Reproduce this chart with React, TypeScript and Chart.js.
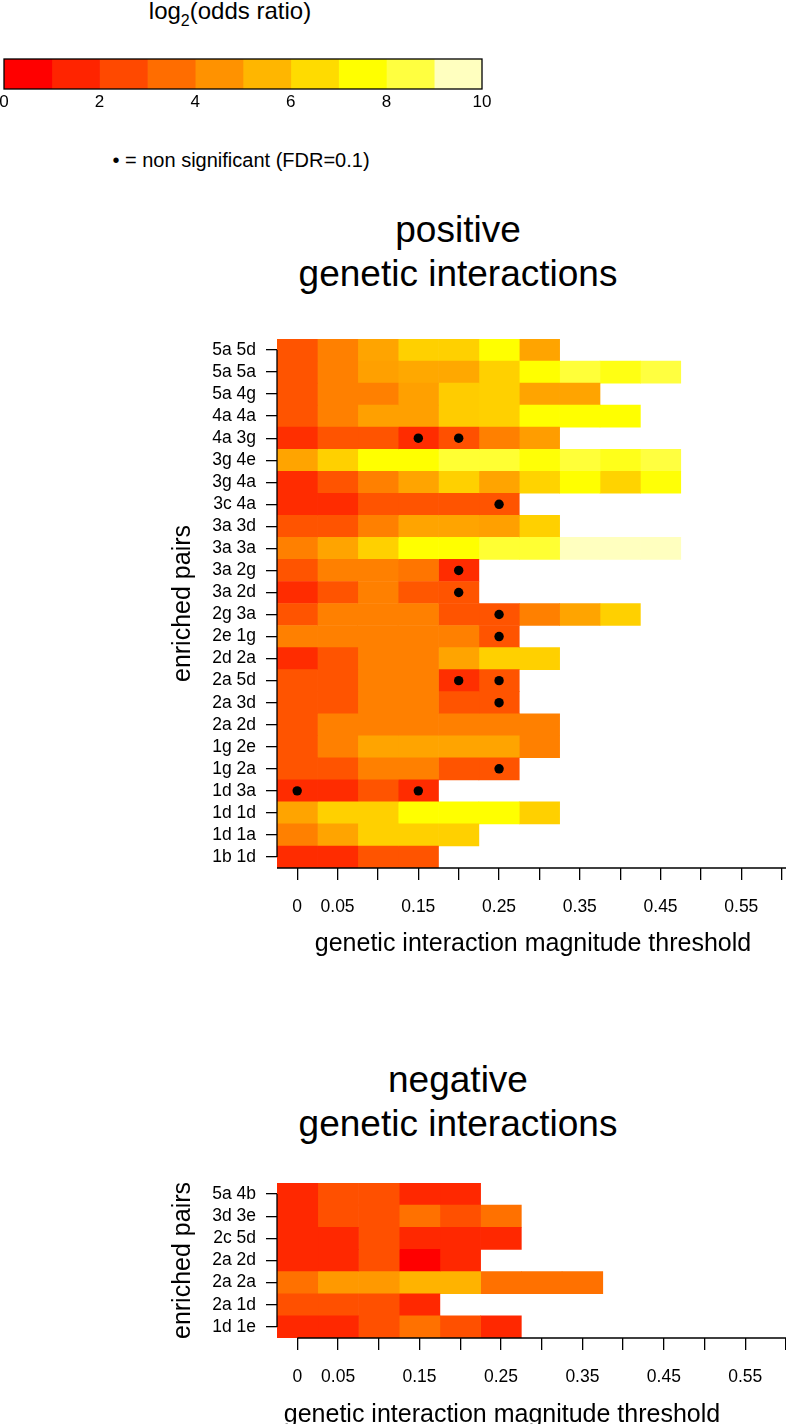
import React, { useEffect, useRef } from 'react';
import { Chart, registerables } from 'chart.js';

Chart.register(...registerables);

const FONT = "'Liberation Sans', Arial, Helvetica, sans-serif";
Chart.defaults.font.family = FONT;
Chart.defaults.color = '#000';

// ---------- data ----------
const thresholds = [0, 0.05, 0.1, 0.15, 0.2, 0.25, 0.3, 0.35, 0.4, 0.45];
const xTickValues = [0, 0.05, 0.1, 0.15, 0.2, 0.25, 0.3, 0.35, 0.4, 0.45, 0.5, 0.55, 0.6];
const xTickLabels = ['0', '0.05', '', '0.15', '', '0.25', '', '0.35', '', '0.45', '', '0.55', ''];

const colorbarBreaks = [0, 1, 2, 3, 4, 5, 6, 7, 8, 9, 10];
const colorbarTicks = [0, 2, 4, 6, 8, 10];

const posRows = [
  '5a 5d', '5a 5a', '5a 4g', '4a 4a', '4a 3g', '3g 4e', '3g 4a', '3c 4a',
  '3a 3d', '3a 3a', '3a 2g', '3a 2d', '2g 3a', '2e 1g', '2d 2a', '2a 5d',
  '2a 3d', '2a 2d', '1g 2e', '1g 2a', '1d 3a', '1d 1d', '1d 1a', '1b 1d',
];
// log2(odds ratio) per row, one value per threshold column (0, 0.05, ...)
const posValues: number[][] = [
  [2.8, 4.0, 5.0, 6.2, 6.2, 7.5, 5.0],
  [2.8, 4.0, 4.9, 5.1, 5.1, 6.2, 7.5, 8.4, 7.8, 8.5],
  [2.8, 4.0, 4.0, 4.9, 6.1, 6.2, 5.0, 5.0],
  [2.8, 4.0, 4.9, 4.9, 6.1, 6.2, 7.5, 7.5, 7.5],
  [1.8, 2.8, 2.8, 1.7, 2.7, 4.0, 4.8],
  [5.0, 6.2, 7.5, 7.5, 8.3, 8.3, 7.6, 8.4, 7.9, 8.5],
  [1.7, 2.8, 4.0, 5.0, 6.2, 5.0, 6.3, 7.5, 6.3, 7.6],
  [1.7, 1.7, 2.8, 2.8, 2.8, 2.8],
  [2.8, 2.8, 4.0, 5.0, 5.0, 4.9, 6.2],
  [4.0, 5.0, 6.2, 7.5, 7.5, 8.3, 8.3, 9.5, 9.5, 9.5],
  [2.8, 4.0, 4.0, 3.7, 1.7],
  [1.7, 2.8, 4.0, 2.9, 2.8],
  [2.8, 4.0, 4.0, 4.0, 2.8, 2.8, 4.0, 5.0, 6.2],
  [4.0, 4.0, 4.0, 4.0, 4.0, 2.8],
  [1.7, 2.8, 4.0, 4.0, 5.0, 6.2, 6.2],
  [2.8, 2.8, 4.0, 4.0, 1.8, 2.8],
  [2.8, 2.8, 4.0, 4.0, 2.8, 2.8],
  [2.8, 4.0, 4.0, 4.0, 4.0, 4.0, 4.0],
  [2.8, 4.0, 5.0, 5.0, 5.0, 5.0, 4.0],
  [2.8, 2.8, 4.0, 4.0, 2.8, 2.8],
  [1.7, 1.7, 2.8, 1.7],
  [5.0, 6.2, 6.2, 7.5, 7.5, 7.5, 6.2],
  [4.0, 5.0, 6.2, 6.2, 6.2],
  [1.7, 1.7, 2.8, 2.8],
];
// non significant cells: [row, threshold]
const posNonSig: [string, number][] = [
  ['4a 3g', 0.15], ['4a 3g', 0.2], ['3c 4a', 0.25], ['3a 2g', 0.2], ['3a 2d', 0.2],
  ['2g 3a', 0.25], ['2e 1g', 0.25], ['2a 5d', 0.2], ['2a 5d', 0.25], ['2a 3d', 0.25],
  ['1g 2a', 0.25], ['1d 3a', 0], ['1d 3a', 0.15],
];

const negRows = ['5a 4b', '3d 3e', '2c 5d', '2a 2d', '2a 2a', '2a 1d', '1d 1e'];
const negValues: number[][] = [
  [1.6, 2.7, 2.7, 1.6, 1.6],
  [1.6, 2.7, 2.7, 3.6, 2.7, 3.6],
  [1.6, 1.6, 2.7, 1.6, 1.6, 1.6],
  [1.6, 1.6, 2.7, 0.4, 1.6],
  [3.6, 4.7, 4.7, 5.4, 5.4, 3.6, 3.6, 3.6],
  [2.7, 2.7, 2.7, 1.6],
  [1.6, 1.6, 2.7, 3.6, 2.7, 1.6],
];
const negNonSig: [string, number][] = [];

// ---------- helpers ----------
function heatColor(v: number): string {
  if (v <= 7.5) {
    const g = Math.round(255 * Math.min(Math.max((v - 0.5) / 7, 0), 1));
    return `rgb(255,${g},0)`;
  }
  const s = v <= 8.5 ? 1 - 0.25 * (v - 7.5) : Math.max(0.25, 0.75 - 0.5 * (v - 8.5));
  return `rgb(255,255,${Math.round(255 * (1 - s))})`;
}

const HALF = (thresholds[1] - thresholds[0]) / 2;

const axisLinesPlugin = {
  id: 'axisLines',
  afterDatasetsDraw(chart: any, _args: any, opts: any) {
    const { ctx, chartArea } = chart;
    ctx.save();
    ctx.strokeStyle = '#000';
    ctx.lineWidth = 1.3;
    if (opts.frame) {
      ctx.strokeRect(chartArea.left, chartArea.top, chartArea.right - chartArea.left, chartArea.bottom - chartArea.top);
    } else {
      const x = chart.scales.x;
      const y = chart.scales.y;
      const n = y.getLabels().length;
      ctx.beginPath();
      ctx.moveTo(chartArea.left, y.getPixelForValue(0));
      ctx.lineTo(chartArea.left, y.getPixelForValue(n - 1));
      const xs = opts.xStart === null || opts.xStart === undefined ? chartArea.left : x.getPixelForValue(opts.xStart);
      ctx.moveTo(xs, chartArea.bottom);
      ctx.lineTo(chartArea.right, chartArea.bottom);
      ctx.stroke();
    }
    ctx.restore();
  },
};

function heatmapConfig(rows: string[], values: number[][], nonSig: [string, number][], xStart: number | null): any {
  const datasets: any[] = [
    {
      type: 'scatter',
      data: nonSig.map(([r, t]) => ({ x: t, y: r })),
      backgroundColor: '#000',
      borderWidth: 0,
      pointRadius: 4.7,
      order: -1,
    },
  ];
  thresholds.forEach((t, k) => {
    datasets.push({
      type: 'bar',
      data: values.map((row) => (row[k] === undefined ? null : [t - HALF, t + HALF])),
      backgroundColor: values.map((row) => (row[k] === undefined ? 'rgba(0,0,0,0)' : heatColor(row[k]))),
      borderWidth: 0,
      grouped: false,
      barPercentage: 1,
      categoryPercentage: 1,
    });
  });
  return {
    type: 'bar',
    data: { labels: rows, datasets },
    options: {
      responsive: false,
      animation: false,
      events: [],
      indexAxis: 'y',
      layout: { padding: { top: 21, left: 0, right: 0, bottom: 0 } },
      plugins: {
        legend: { display: false },
        tooltip: { enabled: false },
        axisLines: { xStart },
      },
      scales: {
        y: {
          type: 'category',
          offset: true,
          grid: { offset: false, drawOnChartArea: false, drawTicks: true, tickLength: 11, color: '#000', lineWidth: 1.3 },
          border: { display: false },
          ticks: { color: '#000', font: { size: 17.5 }, padding: 10, autoSkip: false },
          title: { display: true, text: 'enriched pairs', color: '#000', font: { size: 25 }, padding: { top: 168, bottom: 0 } },
          afterFit: (s: any) => { s.width = 277; },
        },
        x: {
          type: 'linear',
          min: thresholds[0] - HALF,
          max: 0.654,
          afterBuildTicks: (s: any) => { s.ticks = xTickValues.map((v) => ({ value: v })); },
          grid: { drawOnChartArea: false, drawTicks: true, tickLength: 12, color: '#000', lineWidth: 1.3 },
          border: { display: false },
          ticks: {
            color: '#000', font: { size: 17.5 }, padding: 17, autoSkip: false, maxRotation: 0,
            callback: (_v: any, i: number) => xTickLabels[i],
          },
          afterFit: (s: any) => { s.height = 89; },
        },
      },
    },
    plugins: [axisLinesPlugin],
  };
}

function colorbarConfig(): any {
  const datasets = colorbarBreaks.slice(0, -1).map((b, i) => ({
    data: [[b, colorbarBreaks[i + 1]]],
    backgroundColor: heatColor(b + 0.5),
    borderWidth: 0,
    grouped: false,
    barPercentage: 1,
    categoryPercentage: 1,
  }));
  return {
    type: 'bar',
    data: { labels: [''], datasets },
    options: {
      responsive: false,
      animation: false,
      events: [],
      indexAxis: 'y',
      layout: { padding: { left: 8, right: 18, top: 19, bottom: 10 } },
      plugins: { legend: { display: false }, tooltip: { enabled: false }, axisLines: { frame: true } },
      scales: {
        y: { type: 'category', display: false, offset: true },
        x: {
          type: 'linear',
          min: colorbarBreaks[0],
          max: colorbarBreaks[colorbarBreaks.length - 1],
          afterBuildTicks: (s: any) => { s.ticks = colorbarTicks.map((v) => ({ value: v })); },
          grid: { display: false, drawTicks: false },
          border: { display: false },
          ticks: { color: '#000', font: { size: 17 }, padding: 3, autoSkip: false, maxRotation: 0 },
          afterFit: (s: any) => { s.height = 21; },
        },
      },
    },
    plugins: [axisLinesPlugin],
  };
}

function ChartCanvas(props: { make: () => any; left: number; top: number; width: number; height: number }) {
  const ref = useRef<HTMLCanvasElement>(null);
  useEffect(() => {
    const chart = new Chart(ref.current as HTMLCanvasElement, props.make());
    return () => chart.destroy();
  }, []);
  return (
    <canvas
      ref={ref}
      width={props.width}
      height={props.height}
      style={{ position: 'absolute', left: props.left, top: props.top, width: props.width, height: props.height }}
    />
  );
}

export default function App() {
  const titleStyle: React.CSSProperties = {
    position: 'absolute', left: 158, width: 600, textAlign: 'center', fontSize: 37, lineHeight: '44px', color: '#000',
  };
  const xTitleStyle: React.CSSProperties = {
    position: 'absolute', width: 500, textAlign: 'center', fontSize: 25, lineHeight: '30px', color: '#000', whiteSpace: 'nowrap',
  };
  return (
    <div style={{ position: 'absolute', left: 0, top: 0, width: 786, height: 1424, overflow: 'hidden', background: '#fff', fontFamily: FONT, color: '#000' }}>
      <div style={{ position: 'absolute', left: 30, top: -1, width: 400, textAlign: 'center', fontSize: 24, lineHeight: '24px' }}>
        log<sub style={{ fontSize: 16, verticalAlign: '-7px', lineHeight: 0 }}>2</sub>(odds ratio)
      </div>
      <ChartCanvas make={colorbarConfig} left={-4} top={40} width={504} height={80} />
      <div style={{ position: 'absolute', left: 41, top: 150, width: 400, textAlign: 'center', fontSize: 20, lineHeight: '20px' }}>
        • = non significant (FDR=0.1)
      </div>

      <div style={{ ...titleStyle, top: 208 }}>positive<br />genetic interactions</div>
      <ChartCanvas make={() => heatmapConfig(posRows, posValues, posNonSig, null)} left={0} top={318} width={830} height={639} />
      <div style={{ ...xTitleStyle, left: 283, top: 927 }}>genetic interaction magnitude threshold</div>

      <div style={{ ...titleStyle, top: 1058 }}>negative<br />genetic interactions</div>
      <ChartCanvas make={() => heatmapConfig(negRows, negValues, negNonSig, 0)} left={0} top={1162} width={830} height={265} />
      <div style={{ ...xTitleStyle, left: 252, top: 1398 }}>genetic interaction magnitude threshold</div>
    </div>
  );
}
